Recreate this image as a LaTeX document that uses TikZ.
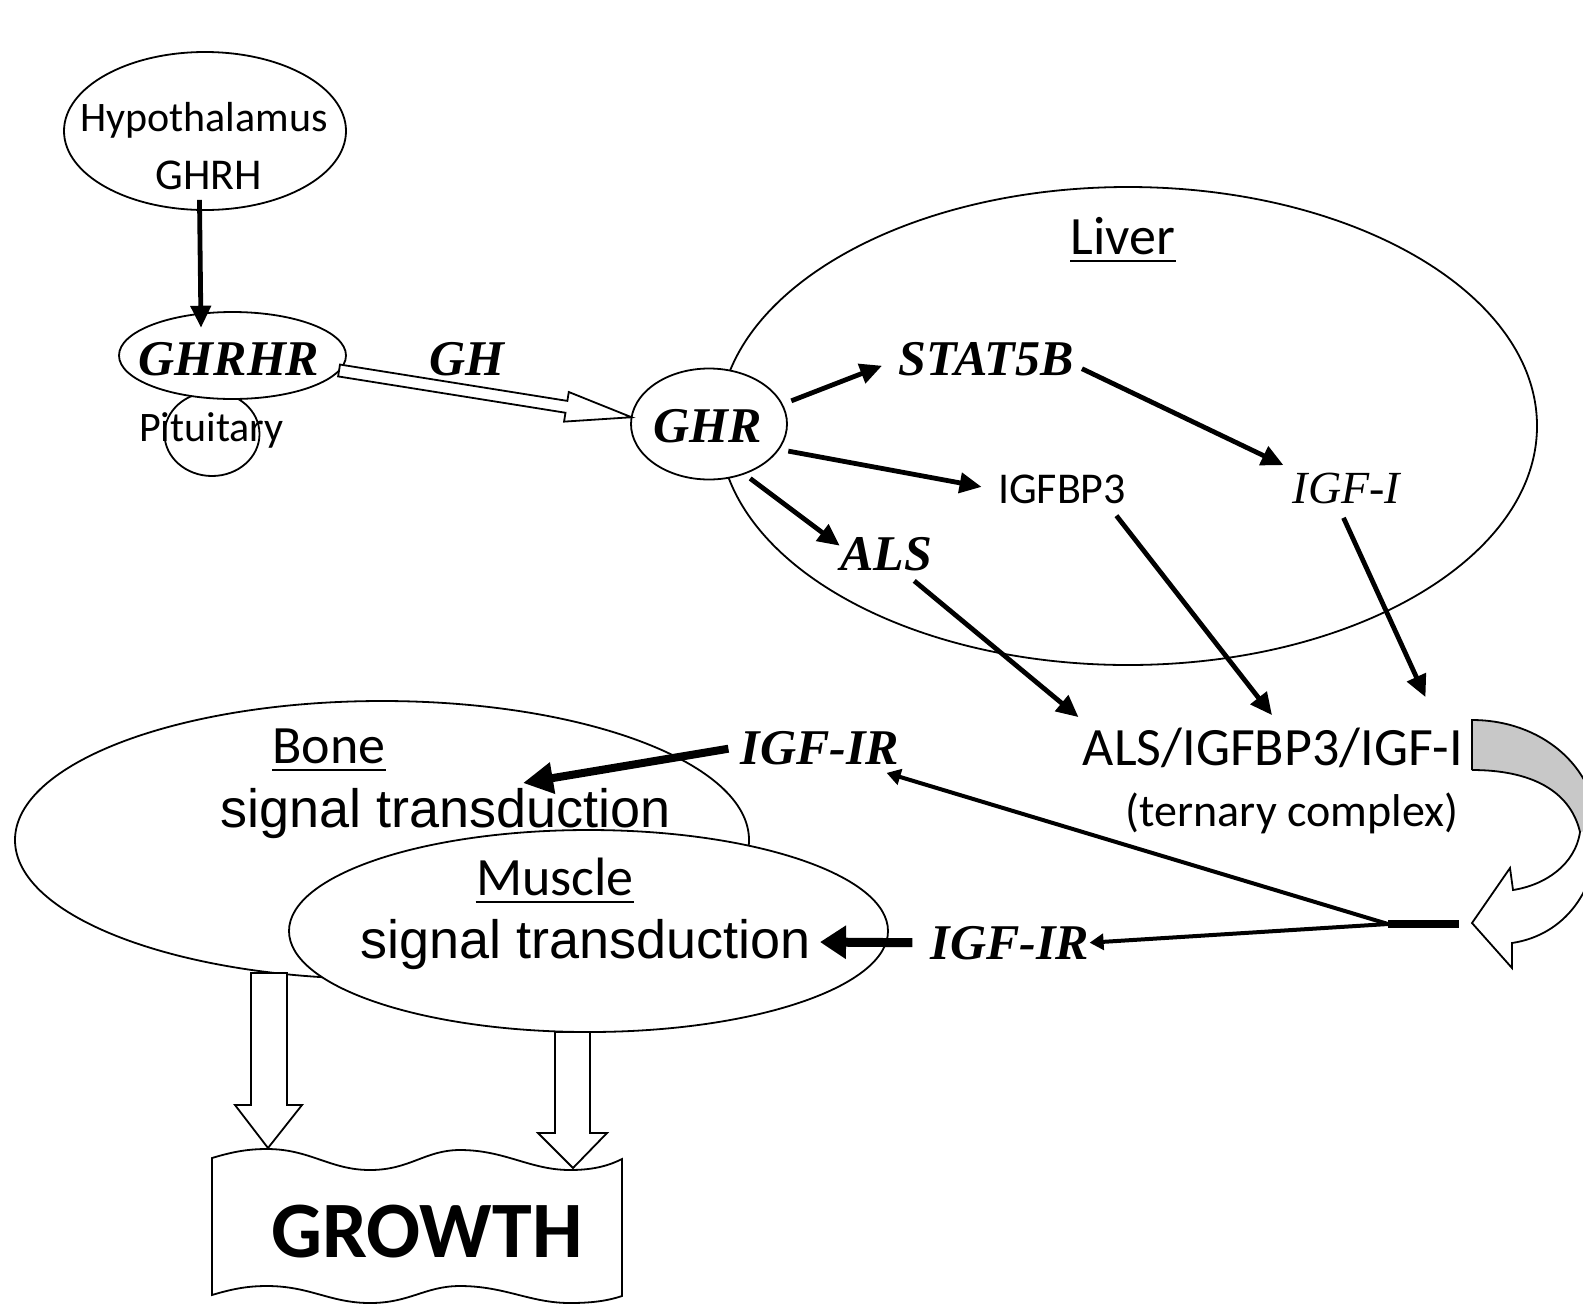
\documentclass[tikz,border=0pt]{standalone}
\usepackage{fontspec}
\usetikzlibrary{arrows.meta,calc,shapes.geometric}
\newfontfamily\carl{Carlito}
\newfontfamily\libser{Liberation Serif}
\newfontfamily\libsans{Liberation Sans}
\definecolor{bandgray}{RGB}{200,200,200}
\begin{document}
\begin{tikzpicture}[x=0.5pt,y=-0.5pt,
  ell/.style={draw, ellipse, line width=0.9pt, inner sep=0pt, outer sep=0pt},
  lab/.style={font=\carl\fontsize{#1}{#1}\selectfont, inner sep=0pt, anchor=base},
  gene/.style={font=\libser\bfseries\itshape\fontsize{25pt}{25pt}\selectfont, inner sep=0pt, anchor=base},
  ital/.style={font=\libser\itshape\fontsize{23pt}{23pt}\selectfont, inner sep=0pt, anchor=base},
  ari/.style={font=\libsans\fontsize{27pt}{27pt}\selectfont, inner sep=0pt, anchor=base},
  arr/.style={line width=2.4pt, -{Triangle[length=11pt,width=10pt]}},
  arrthin/.style={line width=2pt, -{Triangle[length=7pt,width=8pt]}},
  arrbig/.style={line width=4pt, -{Triangle[length=15pt,width=15pt]}},
  arrbigb/.style={line width=4.5pt, -{Triangle[length=13pt,width=16pt]}},
  blockarrow/.style={line width=0.9pt, fill=white, line join=miter}
]
\useasboundingbox (0,0) rectangle (1583,1307);
\clip (0,0) rectangle (1583,1307);

% ellipses
\node[ell, minimum width=409pt, minimum height=239pt] (liver) at (1128,426) {};
\node[ell, minimum width=141pt, minimum height=79pt] (hyp) at (205,131) {};
\node[ell, minimum width=47.5pt, minimum height=42pt] (pit) at (212,434) {};
\node[ell, fill=white, minimum width=113.5pt, minimum height=43.5pt] (ghrhr) at (232.5,355.5) {};
\node[ell, fill=white, minimum width=78pt, minimum height=55.5pt] (ghr) at (709,424) {};
\node[ell, minimum width=367pt, minimum height=139pt] (bone) at (382,840) {};
\node[ell, fill=white, minimum width=299.5pt, minimum height=101pt] (muscle) at (588.5,931) {};

% texts
\node[lab=21pt] (hypT) at (204,131) {Hypothalamus};
\node[lab=22pt] (ghrhT) at (209,189) {GHRH};
\node[gene] (ghrhrT) at (229,375) {GHRHR};
\node[lab=21pt] (pitT) at (211.5,441) {Pituitary};
\node[gene] (ghT) at (466.5,375) {GH};
\node[gene] (ghrT) at (708,442) {GHR};
\node[lab=27pt] (liverT) at (1123,254) {Liver};
\node[gene] (stat) at (986,375) {STAT5B};
\node[lab=22pt] (igfbp) at (1062,503) {IGFBP3};
\node[ital] (igf1) at (1346.5,503) {IGF-I};
\node[gene] (als) at (886,570) {ALS};
\node[lab=27pt] (cplx) at (1273,765) {ALS/IGFBP3/IGF-I};
\node[lab=23pt] (tern) at (1292,826) {(ternary complex)};
\node[gene] (igfr1) at (820,764) {IGF-IR};
\node[gene] (igfr2) at (1010,959) {IGF-IR};
\node[lab=27pt] (boneT) at (329,763) {Bone};
\node[ari] (sig1) at (446,827) {signal transduction};
\node[lab=27pt] (muscleT) at (555,895) {Muscle};
\node[ari] (sig2) at (585.5,958) {signal transduction};

\foreach \n in {liverT,boneT,muscleT}
  \draw[line width=0.9pt] ([yshift=-3.5pt]\n.base west) -- ([yshift=-3.5pt]\n.base east);

% arrows
\draw[arr] ([shift={(0,-10)}]hyp.266) -- ([shift={(0,14)}]ghrhr.127);
\draw[arr, shorten <=5pt] (ghr.15) -- ([shift={(-16,7)}]stat.west);
\draw[arr, shorten <=5pt] (ghr.-20) -- ([shift={(-16,-2)}]igfbp.west);
\draw[arr, shorten <=4pt] (ghr.-55) -- ([shift={(0,-8)}]als.west);
\draw[arr] ([shift={(8,10)}]stat.east) -- ([shift={(-9,-7)}]igf1.north west);
\draw[arr] ([shift={(-10,12)}]igfbp.south east) -- ([shift={(-1,-12)}]cplx.north);
\draw[arr] ([shift={(-3,14)}]igf1.south) -- ([shift={(-38,-30)}]cplx.north east);
\draw[arr] ([shift={(-18,10)}]als.south east) -- ([shift={(-4,-10)}]cplx.north west);

% GH block arrow
\coordinate (gs) at (ghrhr.-8);
\coordinate (gt) at (ghr.175);
\coordinate (gb) at ($(gt)!33pt!(gs)$);
\draw[blockarrow] ($(gs)!3pt!90:(gt)$) -- ($(gb)!3pt!-90:(gs)$) -- ($(gb)!7.5pt!-90:(gs)$) -- (gt)
  -- ($(gb)!7.5pt!90:(gs)$) -- ($(gb)!3pt!90:(gs)$) -- ($(gs)!3pt!-90:(gt)$) -- cycle;

% hub to receptors
\coordinate (hub) at (1388,924);
\coordinate (hubr) at (1459,924);
\coordinate (bonetip) at (523,783);
\draw[line width=3.8pt] (hub) -- (hubr);
\draw[arrthin] (hub) -- ([shift={(-13,8)}]igfr1.south east);
\draw[arrthin] (hub) -- (igfr2.east);
\draw[arrbig] ([shift={(-12,1)}]igfr1.west) -- (bonetip);
\draw[arrbigb] ([shift={(-18,0)}]igfr2.west) -- ([shift={(9,-2)}]sig2.east);

% GROWTH banner
\draw[line width=0.9pt, fill=white] (212,1158) .. controls (235,1151) and (250,1149) .. (267,1149)
  .. controls (310,1149) and (330,1170) .. (370,1170)
  .. controls (410,1170) and (425,1150) .. (460,1150)
  .. controls (505,1150) and (530,1170) .. (570,1170)
  .. controls (595,1170) and (610,1165) .. (622,1159)
  -- (622,1296)
  .. controls (610,1300) and (595,1303) .. (570,1303)
  .. controls (530,1303) and (505,1286) .. (460,1286)
  .. controls (425,1286) and (410,1303) .. (370,1303)
  .. controls (330,1303) and (310,1286) .. (267,1286)
  .. controls (250,1286) and (235,1288) .. (212,1295) -- cycle;
\node[font=\carl\bfseries\fontsize{40pt}{40pt}\selectfont, inner sep=0pt, anchor=base] (growth) at (427,1257) {GROWTH};

% open block arrows down
\draw[blockarrow] (251,973) -- (251,1105) -- (235,1105) -- (268,1148) -- (302,1105) -- (287,1105) -- (287,973) -- cycle;
\draw[blockarrow] (555,1032) -- (555,1133) -- (538,1133) -- (573,1168) -- (607,1133) -- (590,1133) -- (590,1032) -- cycle;

% curved arrow
\fill[bandgray] (1472,720) .. controls (1540,720) and (1596,765) .. (1598,830) -- (1580,832)
  .. controls (1570,790) and (1530,770) .. (1472,770) -- cycle;
\fill[white] (1598,830) .. controls (1598,890) and (1565,935) .. (1512,943) -- (1512,968) -- (1472,923)
  -- (1510,868) -- (1513,890) .. controls (1545,885) and (1575,865) .. (1580,832) -- cycle;
\draw[line width=0.9pt, line join=miter] (1472,770) -- (1472,720) .. controls (1540,720) and (1596,765) .. (1598,830)
  .. controls (1598,890) and (1565,935) .. (1512,943) -- (1512,968) -- (1472,923) -- (1510,868) -- (1513,890)
  .. controls (1545,885) and (1575,865) .. (1580,832) .. controls (1570,790) and (1530,770) .. (1472,770);
\end{tikzpicture}
\end{document}
